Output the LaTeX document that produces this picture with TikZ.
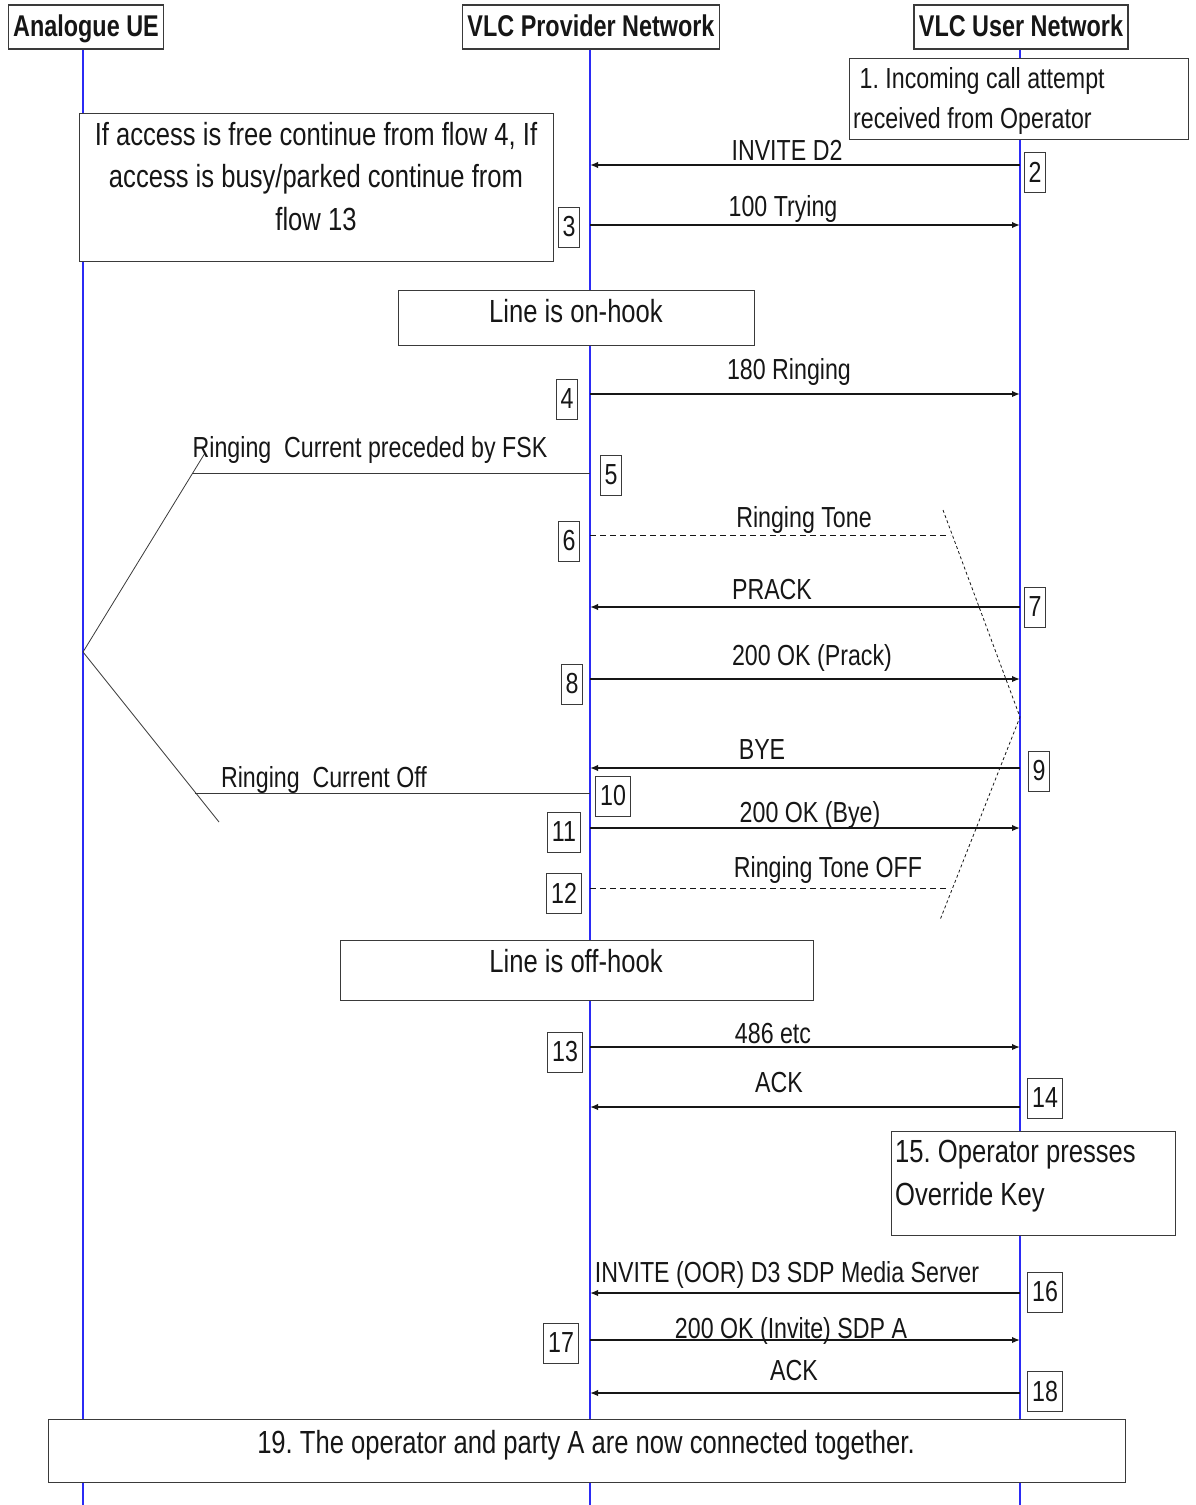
\documentclass[tikz,border=0pt]{standalone}
\usepackage{fontspec}
\setmainfont[FakeStretch=0.8]{Liberation Sans}
\newfontfamily\hdrfont[FakeStretch=0.78]{Liberation Sans}
\usetikzlibrary{arrows.meta,positioning}
\definecolor{ink}{HTML}{161616}
\definecolor{frame}{HTML}{3A3A3A}
\definecolor{lifeblue}{HTML}{2B2BF5}
\newcommand{\msgsize}{\fontsize{29}{33}\selectfont}
\newcommand{\notesize}{\fontsize{32}{42.5}\selectfont}
\frenchspacing
\tikzset{
  entity/.style={draw=frame,fill=white,line width=1.2pt,font=\hdrfont\bfseries\fontsize{30}{34}\selectfont,text=ink,inner xsep=5pt,inner ysep=0pt,text height=23pt,text depth=4pt,minimum height=44pt},
  notebox/.style={draw=frame,fill=white,line width=1.3pt,inner sep=0pt,anchor=north west},
  notetext/.style={font=\notesize,text=ink,inner sep=0pt},
  numbox/.style={draw=frame,fill=white,line width=1pt,font=\msgsize,text=ink,inner xsep=4.5pt,inner ysep=0pt,minimum height=40pt},
  lifeline/.style={draw=lifeblue,line width=1.1pt},
  msg/.style={-{Latex[length=8pt,width=6.5pt]},line width=1.8pt,draw=ink},
  plainmsg/.style={line width=1pt,draw=ink!85},
  tonemsg/.style={line width=1pt,draw=ink,dash pattern=on 6pt off 4pt},
  zigzag/.style={line width=0.8pt,draw=ink,dash pattern=on 3pt off 2.5pt}
}

\begin{document}
\begin{tikzpicture}[
    x=1pt,y=-1pt,
    msglabel/.style={font=\msgsize,text=ink,inner sep=0pt,anchor=base}
  ]
  \useasboundingbox (0,0) rectangle (1195,1505);

  \coordinate (ueEnd) at (83,1505);
  \coordinate (provEnd) at (590,1505);
  \coordinate (userEnd) at (1020,1505);

  \node[entity] (ue) at (86,27) {Analogue UE};
  \node[entity] (prov) at (591,27) {VLC Provider Network};
  \node[entity] (user) at (1021,27) {VLC User Network};

  \draw[lifeline] (ueEnd |- ue.south) -- (ueEnd);
  \draw[lifeline] (provEnd |- prov.south) -- (provEnd);
  \draw[lifeline] (userEnd |- user.south) -- (userEnd);

  \foreach \n/\y in {2/165,3/225,4/394,5/473,6/535,7/607,8/679,9/768,10/793,11/828,12/888,13/1047,14/1107,16/1293,17/1340,18/1393}{
    \coordinate (p\n) at (590,\y);
    \coordinate (u\n) at (1020,\y);
  }
  \coordinate (r5) at (193,473);
  \coordinate (r10) at (195,793);
  \coordinate (t6) at (950,535);
  \coordinate (t12) at (950,888);
  \coordinate (fork) at (83,652);
  \coordinate (forkTop) at (205,453);
  \coordinate (forkBot) at (219,822);
  \coordinate (zzTop) at (943,510);
  \coordinate (zzMid) at (1020,717);
  \coordinate (zzBot) at (940,920);

  \node[notebox,minimum width=339pt,minimum height=81pt] (incoming) at (849,58) {};
  \node[notetext,align=left,anchor=north west,font=\fontsize{29}{40}\selectfont] (incomingTxt) at (853,67) {\ 1. Incoming call attempt\\received from Operator};

  \node[notebox,minimum width=474pt,minimum height=148pt] (access) at (79,113) {};
  \node[notetext,align=center,anchor=north] (accessTxt) at (316,122) {If access is free continue from flow 4, If\\access is busy/parked continue from\\flow 13};

  \node[notebox,minimum width=356pt,minimum height=55pt] (onhook) at (398,290) {};
  \node[notetext,anchor=base] (onhookTxt) at (576,322) {Line is on-hook};

  \node[notebox,minimum width=473pt,minimum height=60pt] (offhook) at (340,940) {};
  \node[notetext,anchor=base] (offhookTxt) at (576,972) {Line is off-hook};

  \node[notebox,minimum width=284pt,minimum height=104pt] (override) at (891,1131) {};
  \node[notetext,align=left,anchor=north west] (overrideTxt) at (895,1140) {15. Operator presses\\Override Key};

  \node[notebox,minimum width=1077pt,minimum height=63pt] (connected) at (48,1419) {};
  \node[notetext,anchor=base] (connectedTxt) at (586,1453) {19. The operator and party A are now connected together.};

  \draw[msg] (u2) -- (p2);
  \draw[msg] (p3) -- (u3);
  \draw[msg] (p4) -- (u4);
  \draw[plainmsg] (p5) -- (r5);
  \draw[tonemsg] (p6) -- (t6);
  \draw[msg] (u7) -- (p7);
  \draw[msg] (p8) -- (u8);
  \draw[msg] (u9) -- (p9);
  \draw[plainmsg] (p10) -- (r10);
  \draw[msg] (p11) -- (u11);
  \draw[tonemsg] (p12) -- (t12);
  \draw[msg] (p13) -- (u13);
  \draw[msg] (u14) -- (p14);
  \draw[msg] (u16) -- (p16);
  \draw[msg] (p17) -- (u17);
  \draw[msg] (u18) -- (p18);

  \draw[plainmsg,line width=0.8pt] (forkTop) -- (fork) -- (forkBot);
  \draw[zigzag] (zzTop) -- (zzMid) -- (zzBot);

  \node[msglabel] (l2) at (787,160) {INVITE D2};
  \node[msglabel] (l3) at (783,216) {100 Trying};
  \node[msglabel] (l4) at (789,379) {180 Ringing};
  \node[msglabel] (l5) at (370,457) {Ringing\ \ Current preceded by FSK};
  \node[msglabel] (l6) at (804,527) {Ringing Tone};
  \node[msglabel] (l7) at (772,599) {PRACK};
  \node[msglabel] (l8) at (812,665) {200 OK (Prack)};
  \node[msglabel] (l9) at (762,759) {BYE};
  \node[msglabel] (l10) at (324,787) {Ringing\ \ Current Off};
  \node[msglabel] (l11) at (810,822) {200 OK (Bye)};
  \node[msglabel] (l12) at (828,877) {Ringing Tone OFF};
  \node[msglabel] (l13) at (773,1043) {486 etc};
  \node[msglabel] (l14) at (779,1092) {ACK};
  \node[msglabel] (l16) at (787,1282) {INVITE (OOR) D3 SDP Media Server};
  \node[msglabel] (l17) at (791,1338) {200 OK (Invite) SDP A};
  \node[msglabel] (l18) at (794,1380) {ACK};

  \node[numbox] (n2) at (1035,172) {2};
  \node[numbox] (n3) at (569,227) {3};
  \node[numbox] (n4) at (567,399) {4};
  \node[numbox] (n5) at (611,475) {5};
  \node[numbox] (n6) at (569,541) {6};
  \node[numbox] (n7) at (1035,607) {7};
  \node[numbox] (n8) at (572,684) {8};
  \node[numbox] (n9) at (1039,771) {9};
  \node[numbox] (n10) at (613,796) {10};
  \node[numbox] (n11) at (564,832) {11};
  \node[numbox] (n12) at (564,893) {12};
  \node[numbox] (n13) at (565,1052) {13};
  \node[numbox] (n14) at (1045,1098) {14};
  \node[numbox] (n16) at (1045,1292) {16};
  \node[numbox] (n17) at (561,1343) {17};
  \node[numbox] (n18) at (1045,1391) {18};
\end{tikzpicture}
\end{document}
